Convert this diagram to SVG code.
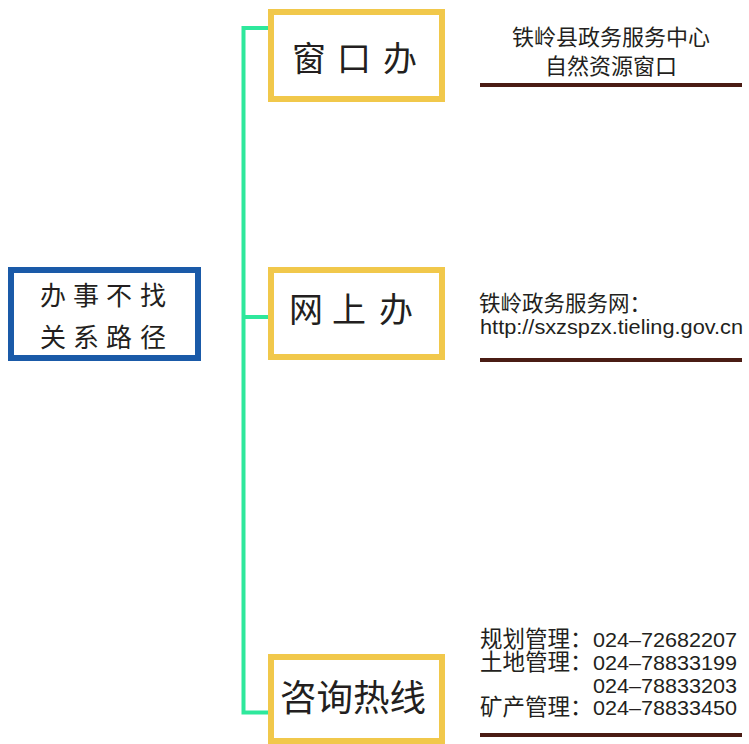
<svg xmlns="http://www.w3.org/2000/svg" width="749" height="744" viewBox="0 0 749 744">
<style>
.cjk{font-family:"Noto Sans CJK SC","Noto Sans",sans-serif;fill:#231f20}
.lat{font-family:"Liberation Sans","Noto Sans CJK SC",sans-serif;fill:#231f20}
.ybox{fill:#fff;stroke:#f1c84b;stroke-width:6}
.ul{stroke:#4a1c14;stroke-width:4;fill:none}
</style>
<rect width="749" height="744" fill="#fff"/>
<g id="connectors">
<path d="M269,28 H243.5 V712.5 H269 M243.5,317 H269" fill="none" stroke="#2ee89c" stroke-width="4"/>
</g>
<g id="root">
<rect x="11" y="270" width="187" height="88" fill="#fff" stroke="#1a5aa8" stroke-width="6"/>
<text class="cjk" font-size="26" y="305"><tspan x="40">办</tspan><tspan x="73">事</tspan><tspan x="106">不</tspan><tspan x="140">找</tspan></text>
<text class="cjk" font-size="26" y="346.5"><tspan x="40">关</tspan><tspan x="73">系</tspan><tspan x="106">路</tspan><tspan x="140">径</tspan></text>
</g>
<g id="window">
<rect class="ybox" x="271" y="12" width="171" height="87"/>
<text class="cjk" font-size="34" y="70.5"><tspan x="292">窗</tspan><tspan x="337">口</tspan><tspan x="383">办</tspan></text>
</g>
<g id="online">
<rect class="ybox" x="271" y="270" width="171" height="87"/>
<text class="cjk" font-size="34" y="321.5"><tspan x="289">网</tspan><tspan x="332">上</tspan><tspan x="379">办</tspan></text>
</g>
<g id="hotline">
<rect class="ybox" x="271" y="657" width="171" height="84"/>
<text class="cjk" font-size="36.5" x="353" y="710.5" text-anchor="middle">咨询热线</text>
</g>
<g id="info-window">
<text class="cjk" font-size="22" x="611" y="45" text-anchor="middle">铁岭县政务服务中心</text>
<text class="cjk" font-size="22" x="611" y="73.5" text-anchor="middle">自然资源窗口</text>
<line class="ul" x1="480" y1="85" x2="742" y2="85"/>
</g>
<g id="info-online">
<text class="cjk" font-size="21.5" x="479" y="311">铁岭政务服务网：</text>
<text class="lat" font-size="20" x="480" y="334" textLength="263" lengthAdjust="spacingAndGlyphs">http://sxzspzx.tieling.gov.cn</text>
<line class="ul" x1="480" y1="360" x2="742" y2="360"/>
</g>
<g id="info-hotline">
<text class="cjk" font-size="22.5" x="480" y="647">规划管理：</text>
<text class="lat" font-size="20" x="593" y="647" textLength="144" lengthAdjust="spacingAndGlyphs">024–72682207</text>
<text class="cjk" font-size="22.5" x="480" y="670">土地管理：</text>
<text class="lat" font-size="20" x="593" y="670" textLength="144" lengthAdjust="spacingAndGlyphs">024–78833199</text>
<text class="lat" font-size="20" x="593" y="692.5" textLength="144" lengthAdjust="spacingAndGlyphs">024–78833203</text>
<text class="cjk" font-size="22.5" x="480" y="715">矿产管理：</text>
<text class="lat" font-size="20" x="593" y="715" textLength="144" lengthAdjust="spacingAndGlyphs">024–78833450</text>
<line class="ul" x1="480" y1="735" x2="742" y2="735"/>
</g>
</svg>
